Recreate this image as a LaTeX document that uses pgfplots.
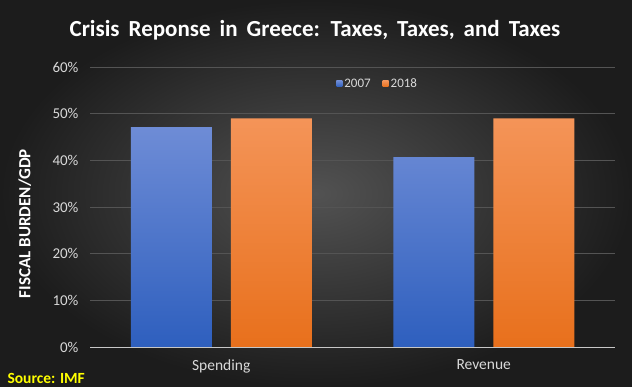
\documentclass[border=0pt]{standalone}
\usepackage{pgfplots}
\pgfplotsset{compat=1.18}
\usepackage{fontspec}
\setmainfont{Carlito}
\definecolor{bgin}{RGB}{82,82,82}
\definecolor{bgout}{RGB}{28,28,28}
\definecolor{tickc}{RGB}{217,217,217}
\definecolor{gridc}{RGB}{84,84,84}
\definecolor{bluetop}{RGB}{110,140,214}
\definecolor{bluebot}{RGB}{46,95,190}
\definecolor{orgtop}{RGB}{244,148,88}
\definecolor{orgbot}{RGB}{232,112,28}
\definecolor{srcyel}{RGB}{255,255,0}
\begin{document}
\begin{tikzpicture}[x=1pt,y=1pt]
\shade[inner color=bgin, outer color=bgout] (0,0) rectangle (632,387);
\node[text=white, font=\fontsize{23}{25}\selectfont\bfseries, anchor=base] at (315,350) {Crisis\, Reponse\, in\, Greece:\, Taxes,\, Taxes,\, and\, Taxes};
\node[text=srcyel, font=\fontsize{15.5}{17}\selectfont\bfseries, anchor=west] at (4,9) {Source: IMF};
\begin{axis}[
  at={(90pt,40pt)}, anchor=south west,
  scale only axis, width=525pt, height=280pt,
  xmin=-0.5, xmax=1.5, ymin=0, ymax=60,
  xtick={0,1}, xticklabels={Spending,Revenue},
  ytick={0,10,...,60},
  yticklabel={\pgfmathprintnumber{\tick}\%},
  /pgf/number format/assume math mode=true,
  axis line style={draw=none},
  tick style={draw=none},
  ymajorgrids, grid style={gridc, line width=0.6pt},
  extra y ticks={0}, extra y tick style={grid style={tickc!80!gray, line width=0.8pt}, yticklabels={}},
  ticklabel style={text=tickc},
  yticklabel style={font=\fontsize{15}{16}\selectfont, xshift=-8pt},
  xticklabel style={font=\fontsize{15.5}{16}\selectfont, yshift=-5pt},
  ylabel={FISCAL BURDEN/GDP},
  ylabel style={text=white, font=\fontsize{17}{18}\selectfont\bfseries, at={(axis description cs:-0.1243,0.441)}, anchor=center, rotate=0},
  ybar, bar width=81pt,
  legend style={draw=none, fill=none, text=tickc, font=\fontsize{13}{14}\selectfont, at={(0.548,0.94)}, anchor=center, legend columns=2, /tikz/every even column/.append style={column sep=10pt}},
  legend image code/.code={\fill[#1] (0pt,-3pt) rectangle (6pt,3pt);},
]
\addplot[bar shift=-50pt, draw=none, top color=bluetop, bottom color=bluebot] coordinates {(0,47.1) (1,40.7)};
\addplot[bar shift=50pt, draw=none, top color=orgtop, bottom color=orgbot] coordinates {(0,49.0) (1,49.0)};
\legend{2007,2018}
\end{axis}
\end{tikzpicture}
\end{document}
